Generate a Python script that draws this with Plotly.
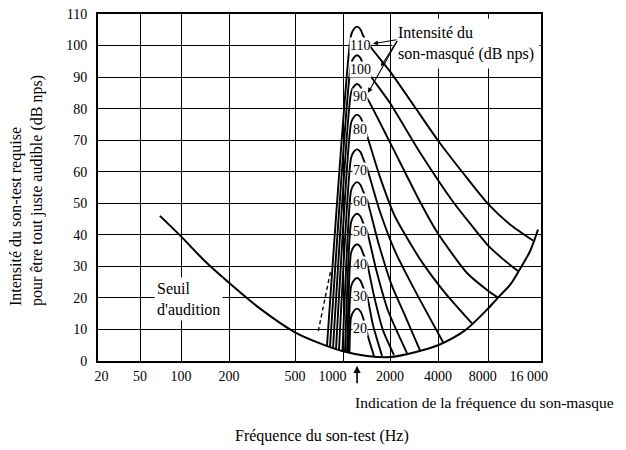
import numpy as np
import plotly.graph_objects as go

# frequency axis as printed: not a true log scale, so tick spacing is kept explicitly
TICK_HZ = [20, 50, 100, 200, 500, 1000, 2000, 4000, 8000, 16000]
TICK_TEXT = ["\u00a0\u00a020", "50", "100", "200", "500",
             "1000" + "\u00a0" * 6, "2000", "4000", "8000" + "\u00a0" * 3,
             "16 000" + "\u00a0" * 7]
AXIS_POS = [0, 42, 83, 131, 197, 245, 292, 340, 390, 443]

# threshold of hearing (Seuil d'audition)
THRESH_HZ = [70, 100, 141, 200, 308, 500, 717, 1000, 1425, 2000, 2870, 4000,
             5816, 8000, 9120, 10670, 12160, 13860, 15390]
THRESH_DB = [46, 39.5, 31.7, 24.8, 16.6, 9.1, 5.6, 3.1, 1.6, 1.25, 2.8, 5.0,
             9.7, 16.6, 20.1, 24.1, 29.2, 34.8, 41.7]

# masked thresholds for a ~1200 Hz masker, by masker level (dB nps)
M110_HZ = [794, 1125, 1168, 1229, 1295, 1343, 1511, 2000, 2828, 4000, 5657, 8000, 10665, 14410]
M110_DB = [4.9, 103.2, 105.1, 106.0, 105.1, 103.2, 99.4, 91.8, 80.9, 69.9, 59.6, 49.8, 43.3, 38.2]
M100_HZ = [829, 1125, 1168, 1229, 1295, 1343, 1534, 2000, 3084, 4925, 6233, 7889, 9737, 11843]
M100_DB = [4.5, 94.1, 96.0, 96.9, 96.0, 94.1, 89.7, 81.8, 66.1, 50.5, 43.6, 37.0, 32.3, 28.5]
M90_HZ = [866, 1125, 1168, 1229, 1295, 1343, 1446, 2000, 3084, 4000, 5980, 8000, 9118]
M90_DB = [4.2, 85.0, 86.9, 87.8, 86.9, 85.0, 82.8, 69.3, 50.5, 40.4, 27.9, 22.3, 20.1]
M80_HZ = [904, 1125, 1168, 1229, 1295, 1343, 1425, 1726, 2150, 3084, 4409, 6409]
M80_DB = [3.9, 75.3, 77.2, 78.1, 77.2, 75.3, 71.5, 58.3, 45.8, 32.3, 21.6, 11.9]
M70_HZ = [944, 1125, 1168, 1229, 1295, 1343, 1425, 1726, 2150, 2870, 4287]
M70_DB = [3.6, 64.3, 66.2, 67.1, 66.2, 64.3, 61.1, 47.3, 34.8, 22.3, 6.0]
M60_HZ = [993, 1125, 1168, 1229, 1295, 1343, 1425, 1675, 2058, 2484, 3084]
M60_DB = [3.2, 53.9, 55.8, 56.7, 55.8, 53.9, 51.1, 37.9, 23.8, 14.4, 3.4]
M50_HZ = [1030, 1125, 1168, 1229, 1295, 1343, 1425, 1627, 1942, 2556]
M50_DB = [3.0, 43.9, 45.8, 46.7, 45.8, 43.9, 41.1, 29.2, 16.0, 2.5]
M40_HZ = [1061, 1125, 1168, 1229, 1295, 1343, 1425, 1579, 1804, 2118]
M40_DB = [2.9, 34.2, 36.1, 37.0, 36.1, 34.2, 31.0, 20.7, 9.7, 1.9]
M30_HZ = [1080, 1125, 1168, 1229, 1295, 1343, 1425, 1557, 1778]
M30_DB = [2.8, 23.5, 25.4, 26.3, 25.4, 23.5, 20.7, 11.3, 1.6]
M20_HZ = [1100, 1125, 1168, 1229, 1295, 1343, 1446, 1579]
M20_DB = [2.7, 13.8, 15.7, 16.6, 15.7, 13.8, 7.8, 1.6]

LEVELS = [20, 30, 40, 50, 60, 70, 80, 90, 100, 110]
LABEL_DB = [10.3, 20.4, 30.7, 41.1, 50.5, 60.5, 73.4, 84.0, 92.5, 100.0]
LABEL_HZ = 1285

DASH_HZ = [700, 840]
DASH_DB = [9.5, 29]

MASKER_HZ = 1230

FONT = "Liberation Serif"


def fx(hz):
    return np.interp(np.log10(hz), np.log10(TICK_HZ), AXIS_POS)


curves = [(M20_HZ, M20_DB), (M30_HZ, M30_DB), (M40_HZ, M40_DB), (M50_HZ, M50_DB),
          (M60_HZ, M60_DB), (M70_HZ, M70_DB), (M80_HZ, M80_DB), (M90_HZ, M90_DB),
          (M100_HZ, M100_DB), (M110_HZ, M110_DB)]

fig = go.Figure()
fig.add_trace(go.Scatter(x=fx(THRESH_HZ), y=THRESH_DB, mode="lines",
                         line=dict(color="black", width=2, shape="spline", smoothing=0.8)))
for hz, db in curves:
    fig.add_trace(go.Scatter(x=fx(hz), y=db, mode="lines",
                             line=dict(color="black", width=1.9, shape="spline", smoothing=0.6)))
fig.add_trace(go.Scatter(x=fx(DASH_HZ), y=DASH_DB, mode="lines",
                         line=dict(color="black", width=1.4, dash="4px,3px")))

ann = []
for lev, ldb in zip(LEVELS, LABEL_DB):
    ann.append(dict(x=float(fx(LABEL_HZ)), y=ldb, text=str(lev), showarrow=False,
                    bgcolor="white", borderpad=0, font=dict(size=14)))

# legend box and its three arrows
ann.append(dict(x=float(fx(2058)), y=108.8, xanchor="left", yanchor="top", align="left",
                text="Intensité du<br>son-masqué (dB nps)", showarrow=False,
                bgcolor="white", borderpad=5, font=dict(size=16)))
for hx, hy in [(1557, 100.6), (1751, 93.4), (1446, 85.0)]:
    ann.append(dict(x=float(fx(hx)), y=hy, ax=float(fx(2245)), ay=101.9, axref="x", ayref="y",
                    text="", showarrow=True, arrowhead=2, arrowsize=0.9, arrowwidth=1.1,
                    arrowcolor="black"))

ann.append(dict(x=float(fx(112)), y=19.6, text="Seuil<br>d'audition", align="left",
                showarrow=False, bgcolor="white", borderpad=2, font=dict(size=16)))

# masker frequency indicator below the axis
ann.append(dict(x=float(fx(MASKER_HZ)), y=-0.014, xref="x", yref="paper", text="",
                showarrow=True, ax=0, ay=19, arrowhead=2, arrowsize=0.9, arrowwidth=1.6,
                arrowcolor="black"))

ann.append(dict(x=0.872, y=-0.12, xref="paper", yref="paper", xanchor="center", yanchor="middle",
                showarrow=False, text="Indication de la fréquence du son-masque",
                font=dict(size=15.5)))
ann.append(dict(x=0.506, y=-0.217, xref="paper", yref="paper", xanchor="center", yanchor="middle",
                showarrow=False, text="Fréquence du son-test (Hz)", font=dict(size=16)))
ann.append(dict(x=-0.16, y=0.49, xref="paper", yref="paper", xanchor="center", yanchor="middle",
                showarrow=False, textangle=-90, align="left",
                text="Intensité du son-test requise<br>pour être tout juste audible (dB nps)",
                font=dict(size=16)))

axis_style = dict(showgrid=True, gridcolor="black", gridwidth=1.3, showline=True, mirror=True,
                  linecolor="black", linewidth=2, zeroline=False, ticks="", automargin=False,
                  ticklabeloverflow="allow", tickfont=dict(size=14, color="black"))

# the page adds an 8px body margin, so the figure is sized to fit inside the window
fig.update_layout(
    width=618, height=442,
    margin=dict(l=90, r=85, t=6, b=89),
    paper_bgcolor="white", plot_bgcolor="white",
    showlegend=False,
    font=dict(family=FONT, size=14, color="black"),
    annotations=ann,
    xaxis=dict(range=[0, AXIS_POS[-1]], tickvals=AXIS_POS, ticktext=TICK_TEXT,
               ticklabelstandoff=1, **axis_style),
    yaxis=dict(range=[0, 110], tickvals=list(range(0, 111, 10)),
               ticklabelstandoff=6, **axis_style),
)

fig.write_html("out.html")
